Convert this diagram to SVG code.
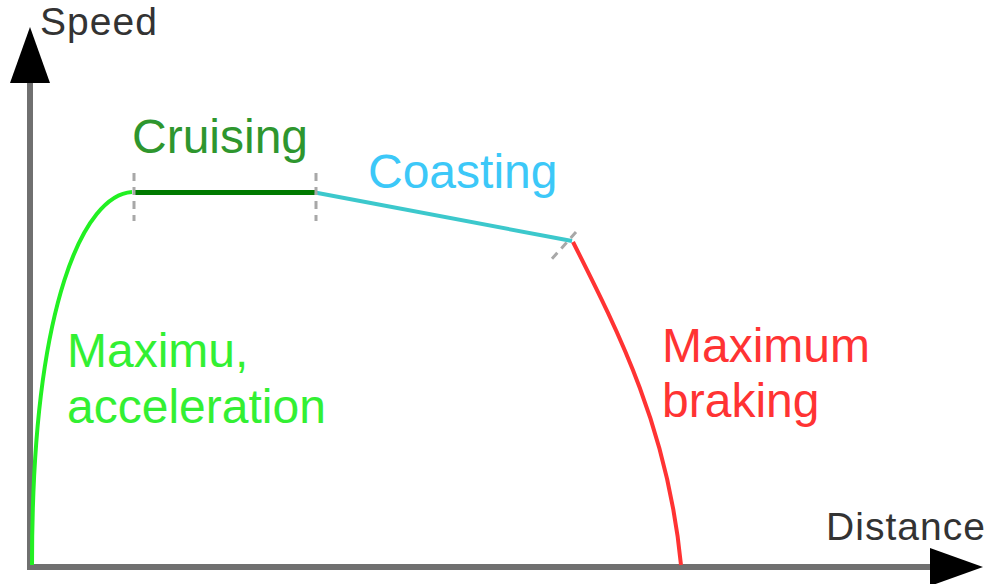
<svg xmlns="http://www.w3.org/2000/svg" width="992" height="584" viewBox="0 0 992 584">
  <style>
    text { font-family: "Liberation Sans", Arial, sans-serif; }
    .axis { stroke: #707070; stroke-width: 6; fill: none; }
    .axis-label { font-size: 39px; fill: #333333; }
    .phase { font-size: 48px; }
    .tick { stroke: #a8a8a8; stroke-width: 3; stroke-dasharray: 8 6; fill: none; }
    .seg { fill: none; stroke-linecap: butt; }
  </style>
  <rect width="992" height="584" fill="#ffffff"/>

  <!-- axes -->
  <g id="axes">
    <line class="axis" x1="30" y1="567" x2="30" y2="80"/>
    <line class="axis" x1="27" y1="567" x2="934" y2="567"/>
    <polygon points="30,27 50,83 10,83" fill="#000000"/>
    <polygon points="983,567 930,548 930,586" fill="#000000"/>
    <text class="axis-label" x="40" y="35" textLength="117">Speed</text>
    <text class="axis-label" x="826" y="540" textLength="159">Distance</text>
  </g>

  <!-- speed profile segments -->
  <g id="connectors">
    <path id="acceleration" class="seg" d="M32,565 C32,300 85,195 132,192" stroke="#22f022" stroke-width="4"/>
    <line id="cruising" class="seg" x1="133" y1="192.5" x2="315" y2="192.5" stroke="#007a00" stroke-width="5"/>
    <line id="coasting" class="seg" x1="315" y1="192.5" x2="572" y2="241" stroke="#3cc8cc" stroke-width="4"/>
    <path id="braking" class="seg" d="M573,242 C620,335 668,430 681,565" stroke="#ff3333" stroke-width="4"/>
  </g>

  <!-- phase boundary marks -->
  <g id="ticks">
    <line class="tick" x1="134" y1="173" x2="134" y2="221"/>
    <line class="tick" x1="316" y1="173" x2="316" y2="221"/>
    <line class="tick" x1="576" y1="232" x2="550" y2="261"/>
  </g>

  <!-- phase labels -->
  <g id="label-cruising">
    <text class="phase" x="132" y="153" fill="#2e962e">Cruising</text>
  </g>
  <g id="label-coasting">
    <text class="phase" x="368" y="188" fill="#3cc8f8">Coasting</text>
  </g>
  <g id="label-acceleration">
    <text class="phase" x="67" y="367" fill="#33f033">Maximu,</text>
    <text class="phase" x="67" y="423" fill="#33f033">acceleration</text>
  </g>
  <g id="label-braking">
    <text class="phase" x="662" y="362" fill="#ff3333">Maximum</text>
    <text class="phase" x="662" y="417" fill="#ff3333">braking</text>
  </g>
</svg>
